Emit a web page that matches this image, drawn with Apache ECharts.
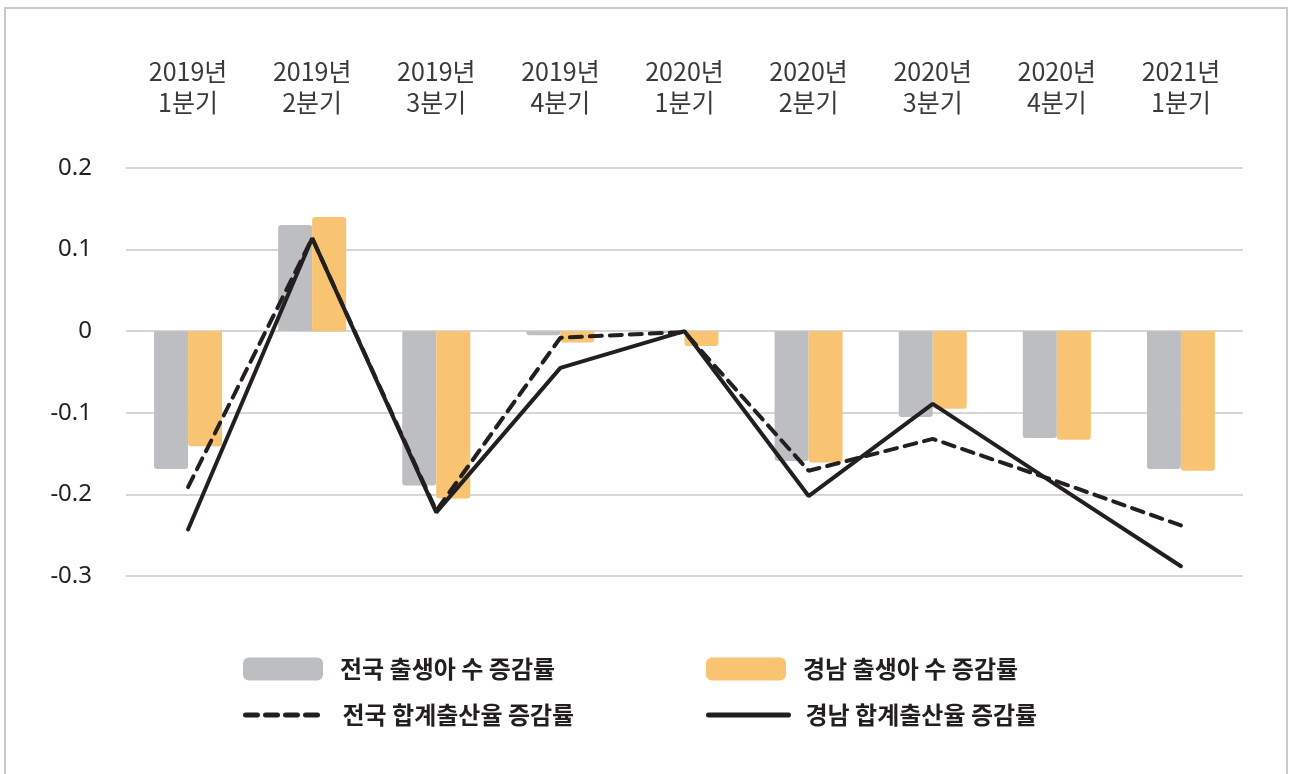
<!DOCTYPE html>
<html>
<head>
<meta charset="utf-8">
<script src="https://cdn.jsdelivr.net/npm/echarts@6/dist/echarts.min.js"></script>
<style>
  html, body { margin: 0; padding: 0; background: #fff; }
  #frame { position: absolute; left: 4px; top: 7px; width: 1284px; height: 780px;
           border: 2px solid #c9c9c9; box-sizing: border-box; }
  #chart { width: 1293px; height: 774px; }
</style>
</head>
<body>
<div id="frame"></div>
<div id="chart"></div>
<script>
// 분기
const quarters = ['2019년\n1분기', '2019년\n2분기', '2019년\n3분기', '2019년\n4분기',
                  '2020년\n1분기', '2020년\n2분기', '2020년\n3분기', '2020년\n4분기', '2021년\n1분기'];

// 출생아 수 증감률
const birthNation = [-0.169, 0.130, -0.189, -0.005, -0.002, -0.159, -0.105, -0.131, -0.169];
const birthGN     = [-0.141, 0.140, -0.205, -0.014, -0.018, -0.161, -0.095, -0.133, -0.171];

// 합계출산율 증감률
const tfrNation = [-0.191, 0.114, -0.220, -0.008, -0.001, -0.171, -0.132, -0.184, -0.238];
const tfrGN     = [-0.243, 0.114, -0.222, -0.045, 0.000, -0.202, -0.089, -0.189, -0.288];

const yTicks = [-0.3, -0.2, -0.1, 0, 0.1, 0.2];

const FONT = '"Noto Sans CJK KR", "Noto Sans", sans-serif';
const INK = '#231f20';

function barData(arr) {
    return arr.map(v => ({
        value: v,
        itemStyle: { borderRadius: v < 0 ? [0, 0, 3, 3] : [3, 3, 0, 0] }
    }));
}

// one legend block per entry so that each sits where it does in the original
function legendAt(name, left, top, isLine, dashed) {
    const lg = {
        left: left, top: top, padding: 0, itemWidth: 80, itemHeight: 23,
        textStyle: { fontSize: 24, fontWeight: 'bold', color: INK, fontFamily: FONT, padding: [0, 0, 0, 12] },
        data: [{ name: name }]
    };
    if (isLine) {
        lg.data[0].itemStyle = { opacity: 0 };
        lg.lineStyle = { width: 5, color: INK, type: dashed ? [12, 8] : 'solid', cap: 'round' };
    } else {
        lg.data[0].icon = 'roundRect';
    }
    return lg;
}

const chart = echarts.init(document.getElementById('chart'));

chart.setOption({
    animation: false,
    textStyle: { fontFamily: FONT },
    grid: { left: 126, right: 50, top: 168, height: 408 },
    legend: [
        legendAt('전국 출생아 수 증감률', 243, 657, false),
        legendAt('경남 출생아 수 증감률', 706, 657, false),
        legendAt('전국 합계출산율 증감률', 243, 703, true, true),
        legendAt('경남 합계출산율 증감률', 706, 703, true, false)
    ],
    xAxis: {
        type: 'category',
        position: 'top',
        data: quarters,
        axisLine: { show: false },
        axisTick: { show: false },
        axisLabel: {
            fontSize: 25, color: '#3a3a3a', lineHeight: 31, margin: 50, fontFamily: FONT
        }
    },
    yAxis: {
        type: 'value',
        min: -0.3, max: 0.2, interval: 0.1,
        axisLine: { show: false },
        axisTick: { show: false },
        splitLine: { lineStyle: { color: '#c8c8c8', width: 1.5 } },
        axisLabel: {
            fontSize: 24, color: INK, margin: 34, fontFamily: '"Noto Sans", sans-serif',
            formatter: v => {
                const t = yTicks.find(x => Math.abs(x - v) < 1e-9);
                return t === 0 ? '0' : String(t);
            }
        }
    },
    series: [
        {
            name: '전국 출생아 수 증감률', type: 'bar', barWidth: 34, barGap: '0%',
            itemStyle: { color: '#bcbec1' },
            data: barData(birthNation)
        },
        {
            name: '경남 출생아 수 증감률', type: 'bar', barWidth: 34, barGap: '0%',
            itemStyle: { color: '#f8c472' },
            data: barData(birthGN)
        },
        {
            name: '전국 합계출산율 증감률', type: 'line', symbol: 'none',
            lineStyle: { color: INK, width: 4, type: [12, 8], cap: 'round' },
            itemStyle: { color: INK },
            data: tfrNation
        },
        {
            name: '경남 합계출산율 증감률', type: 'line', symbol: 'none',
            lineStyle: { color: INK, width: 4, cap: 'round' },
            itemStyle: { color: INK },
            data: tfrGN
        }
    ]
});
</script>
</body>
</html>
